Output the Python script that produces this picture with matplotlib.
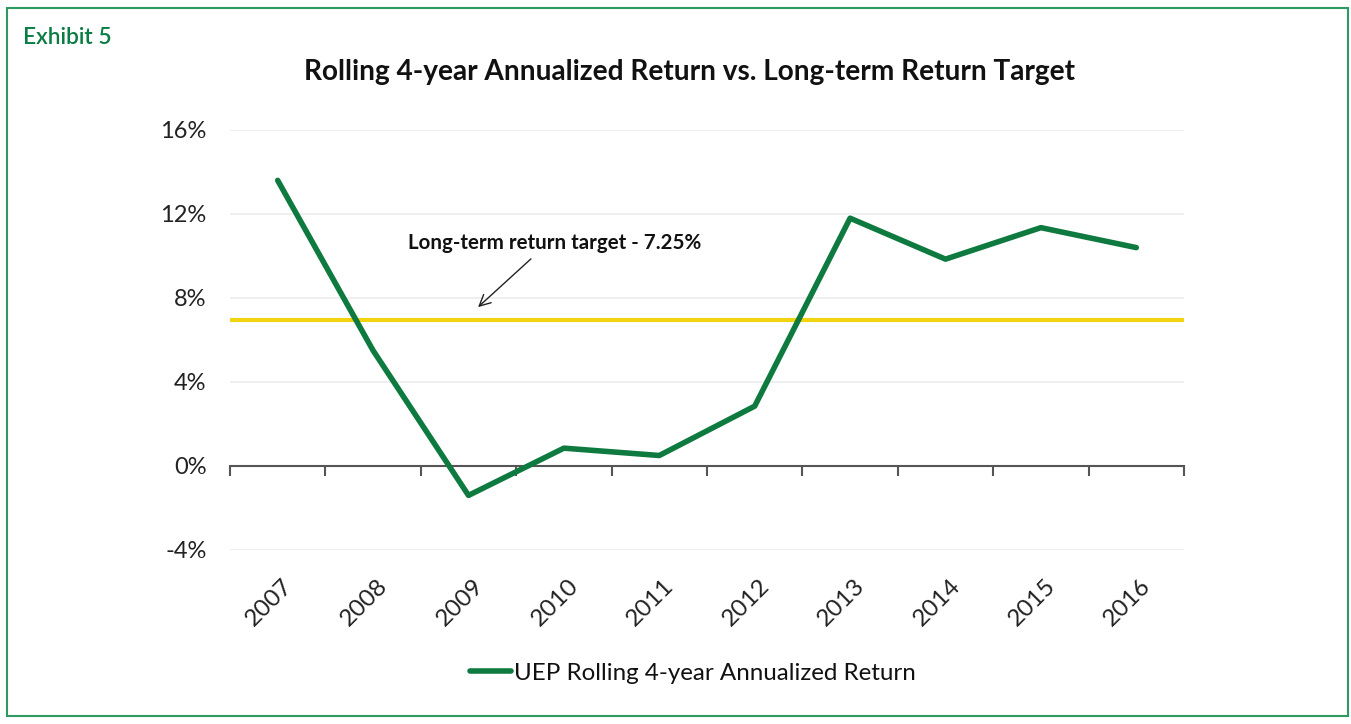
import matplotlib.pyplot as plt
from matplotlib.patches import Rectangle

plt.rcParams['font.family'] = ['Lato', 'DejaVu Sans']

years = ['2007', '2008', '2009', '2010', '2011', '2012', '2013', '2014', '2015', '2016']
uep_return = [13.6, 5.5, -1.4, 0.85, 0.5, 2.85, 11.8, 9.85, 11.35, 10.4]
target = 6.95
yticks = [-4, 0, 4, 8, 12, 16]

green = '#0e7a3f'
yellow = '#f2d30f'

fig = plt.figure(figsize=(13.51, 7.24), dpi=100)
W, H = 1351, 724
ax = fig.add_axes([230 / W, 1 - 550 / H, (1184 - 230) / W, 420 / H])

x = list(range(len(years)))
ax.plot(x, uep_return, color=green, lw=4, solid_capstyle='round', zorder=3,
        label='UEP Rolling 4-year Annualized Return')
ax.axhline(target, color=yellow, lw=3, zorder=2)

ax.set_xlim(-0.5, len(years) - 0.5)
ax.set_ylim(-4, 16)
ax.set_yticks(yticks)
ax.set_yticklabels([f'{v}%' for v in yticks], fontsize=17, color='#222222')
ax.tick_params(axis='y', length=0, pad=17)
ax.grid(axis='y', color='#ececec', lw=1.2)
ax.set_axisbelow(True)
for s in ['top', 'right', 'left']:
    ax.spines[s].set_visible(False)
ax.spines['bottom'].set_position(('data', 0))
ax.spines['bottom'].set_color('#555555')
ax.spines['bottom'].set_linewidth(1.5)
ax.set_xticks([i - 0.5 for i in range(len(years) + 1)])
ax.set_xticklabels([])
ax.tick_params(axis='x', length=7, width=1.5, color='#555555', direction='out')

tr = ax.get_xaxis_transform()
for i, yr in enumerate(years):
    ax.text(i + 0.04, -0.06, yr, transform=tr, rotation=45, rotation_mode='anchor',
            ha='right', va='top', fontsize=17.5, color='#222222')

ax.annotate('', xy=(476, H - 309), xycoords='figure pixels',
            xytext=(533, H - 257), textcoords='figure pixels',
            arrowprops=dict(arrowstyle='->', color='#222222', lw=1, mutation_scale=20))
fig.text(408 / W, 1 - 243 / H, 'Long-term return target - 7.25%', fontsize=14.8,
         fontweight='bold', ha='left', va='center', color='#111111')

fig.text(690 / W, 1 - 72 / H, 'Rolling 4-year Annualized Return vs. Long-term Return Target',
         fontsize=20.2, fontweight='bold', ha='center', va='center', color='#111111')
fig.text(23 / W, 1 - 37 / H, 'Exhibit 5', fontsize=16.4, color='#0a7d45',
         fontweight='semibold', ha='left', va='center')

leg = fig.legend(loc='center', bbox_to_anchor=(693 / W, 1 - 673 / H), frameon=False,
                 fontsize=17.4, handlelength=1.7, handletextpad=0.15)
for t in leg.get_texts():
    t.set_color('#111111')

fig.patches.append(Rectangle((7 / W, 8 / H), (1348 - 7) / W, (716 - 8) / H,
                             transform=fig.transFigure, fill=False,
                             edgecolor='#2e9a62', lw=1.5))

fig.savefig('out.png', dpi=100)
